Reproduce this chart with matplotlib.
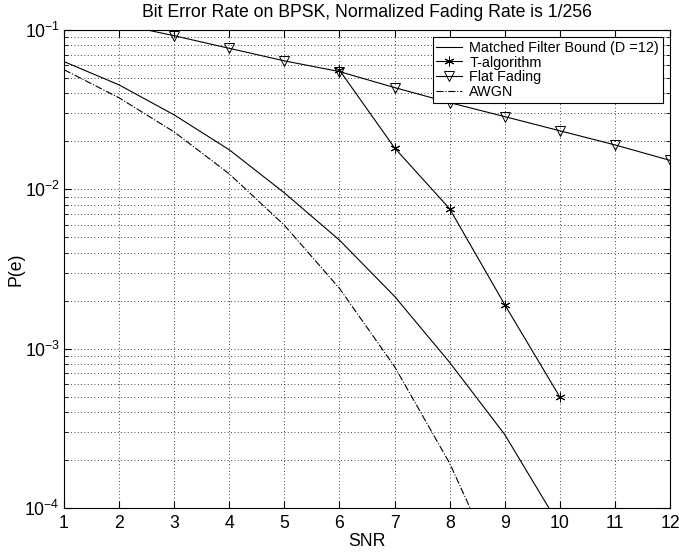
import matplotlib

matplotlib.use("Agg")
import matplotlib.pyplot as plt
from matplotlib.ticker import LogLocator, NullFormatter

plt.rcParams["font.family"] = ["Liberation Sans", "DejaVu Sans"]

# values
snr_mfb = [1, 2, 3, 4, 5, 6, 7, 8, 9, 10]
pe_mfb = [0.0633, 0.0452, 0.0293, 0.0177, 0.0095, 0.0048, 0.00213, 0.00082, 0.000289, 7.7e-5]

snr_talg = [6, 7, 8, 9, 10]
pe_talg = [0.056, 0.0182, 0.00755, 0.00189, 0.000498]

snr_flat = [2, 3, 4, 5, 6, 7, 8, 9, 10, 11, 12]
pe_flat = [0.109, 0.092, 0.0767, 0.064, 0.0548, 0.0435, 0.035, 0.0286, 0.0233, 0.019, 0.0152]

snr_awgn = [1, 2, 3, 4, 5, 6, 7, 8, 9]
pe_awgn = [0.0563, 0.0375, 0.0229, 0.0125, 0.00595, 0.00239, 0.000772, 0.000191, 3.36e-5]

fig = plt.figure(figsize=(6.79, 5.53), dpi=100)
ax = fig.add_axes([0.0943, 0.0814, 0.8924, 0.8644])

lw = 0.8
ax.semilogy(snr_mfb, pe_mfb, "k-", lw=lw, label="Matched Filter Bound (D =12)")
ax.semilogy(snr_talg, pe_talg, "k-", lw=lw, marker=(6, 2, 0), ms=7, mew=0.7,
            label="T-algorithm")
ax.semilogy(snr_flat, pe_flat, "k-", lw=lw, marker="v", ms=7, mfc="none", mew=0.7,
            label="Flat Fading")
ax.semilogy(snr_awgn, pe_awgn, "k-.", lw=lw, label="AWGN")

ax.set_xlim(1, 12)
ax.set_ylim(1e-4, 1e-1)
ax.set_xticks(range(1, 13))
ax.yaxis.set_major_locator(LogLocator(base=10, numticks=10))
ax.yaxis.set_minor_locator(LogLocator(base=10, subs=range(2, 10), numticks=10))
ax.yaxis.set_minor_formatter(NullFormatter())

ax.grid(True, which="major", axis="x", ls=(0, (1, 3)), color="k", lw=0.6)
ax.grid(True, which="both", axis="y", ls=(0, (1, 3)), color="k", lw=0.6)
ax.tick_params(which="both", direction="in", top=True, right=True, labelsize=12.7)
ax.tick_params(which="major", length=5)
ax.tick_params(which="minor", length=3)
ax.tick_params(axis="x", pad=5)
ax.tick_params(axis="y", pad=3)
for s in ax.spines.values():
    s.set_linewidth(0.8)

ax.set_xlabel("SNR", fontsize=12.7, labelpad=1)
ax.set_ylabel("P(e)", fontsize=12.7, labelpad=0)
ax.set_title("Bit Error Rate on BPSK, Normalized Fading Rate is 1/256", fontsize=12.7, pad=9)

leg = ax.legend(loc="upper right", fontsize=10.4, fancybox=False, framealpha=1,
                edgecolor="k", borderpad=0.25, labelspacing=0.05, handlelength=1.8,
                handletextpad=0.5, borderaxespad=0.5)
leg.get_frame().set_linewidth(0.8)

fig.savefig("out.png", dpi=100)
